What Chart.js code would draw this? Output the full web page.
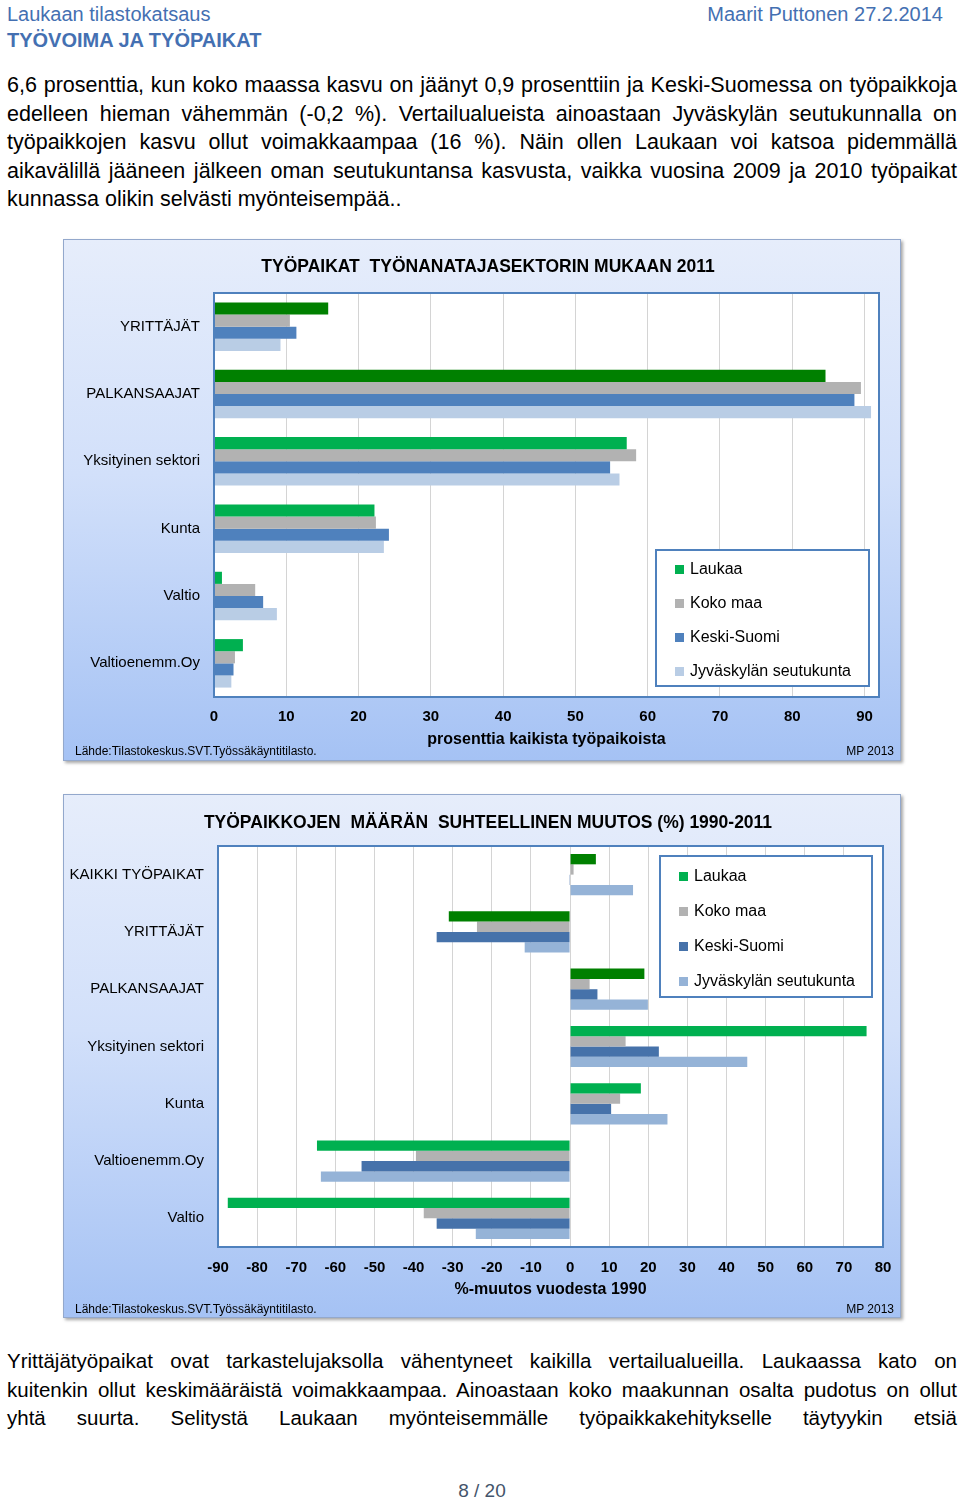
<!DOCTYPE html>
<html>
<head>
<meta charset="utf-8">
<script src="https://cdn.jsdelivr.net/npm/chart.js@4.4.0/dist/chart.umd.min.js"></script>
<style>
body { margin: 0; width: 960px; height: 1503px; position: relative; background: #fff; font-family: 'Liberation Sans', Arial, sans-serif; }
.hd { position: absolute; font-size: 20px; line-height: 22px; color: #4470B2; white-space: nowrap; }
.txt { position: absolute; left: 7px; width: 950px; line-height: 28.5px; color: #000; }
.txt div { white-space: nowrap; text-align: justify; text-align-last: justify; }
.txt div.end { text-align-last: left; }
.box { position: absolute; left: 63px; width: 836px; border: 1px solid #93A8CC; box-shadow: 2px 2px 3px rgba(0,0,0,0.35);
       background: linear-gradient(to bottom, #E6EDFB 0%, #D2E0FA 45%, #A5C2F4 100%); }
.box canvas { position: absolute; left: 0; top: 0; }
.src { position: absolute; font-size: 12px; color: #000; white-space: nowrap; }
.pg { position: absolute; left: 0; width: 964px; top: 1480px; text-align: center; font-size: 19px; color: #44546A; }
</style>
</head>
<body>
<div class="hd" style="left:7px;top:3px">Laukaan tilastokatsaus</div>
<div class="hd" style="left:7px;top:29px;font-weight:bold">TYÖVOIMA JA TYÖPAIKAT</div>
<div class="hd" style="right:17px;top:3px">Maarit Puttonen 27.2.2014</div>

<div class="txt" style="top:71px;font-size:21.5px">
  <div>6,6 prosenttia, kun koko maassa kasvu on jäänyt 0,9 prosenttiin ja Keski-Suomessa on työpaikkoja</div>
  <div>edelleen hieman vähemmän (-0,2 %). Vertailualueista ainoastaan Jyväskylän seutukunnalla on</div>
  <div>työpaikkojen kasvu ollut voimakkaampaa (16 %). Näin ollen Laukaan voi katsoa pidemmällä</div>
  <div>aikavälillä jääneen jälkeen oman seutukuntansa kasvusta, vaikka vuosina 2009 ja 2010 työpaikat</div>
  <div class="end">kunnassa olikin selvästi myönteisempää..</div>
</div>

<div class="box" style="top:239px;height:520px">
  <canvas id="sektori" width="836" height="520"></canvas>
  <div class="src" style="left:11px;top:504px">Lähde:Tilastokeskus.SVT.Työssäkäyntitilasto.</div>
  <div class="src" style="right:6px;top:504px">MP 2013</div>
</div>

<div class="box" style="top:794px;height:522px">
  <canvas id="muutos" width="836" height="522"></canvas>
  <div class="src" style="left:11px;top:507px">Lähde:Tilastokeskus.SVT.Työssäkäyntitilasto.</div>
  <div class="src" style="right:6px;top:507px">MP 2013</div>
</div>

<div class="txt" style="top:1347px;font-size:20.5px">
  <div>Yrittäjätyöpaikat ovat tarkastelujaksolla vähentyneet kaikilla vertailualueilla. Laukaassa kato on</div>
  <div>kuitenkin ollut keskimääräistä voimakkaampaa. Ainoastaan koko maakunnan osalta pudotus on ollut</div>
  <div>yhtä suurta. Selitystä Laukaan myönteisemmälle työpaikkakehitykselle täytyykin etsiä</div>
</div>

<div class="pg">8 / 20</div>

<script>
// sarjat
var seriesNames = ['Laukaa', 'Koko maa', 'Keski-Suomi', 'Jyväskylän seutukunta'];

// työpaikat työnantajasektorin mukaan 2011, % kaikista työpaikoista
var sectorLabels = ['YRITTÄJÄT', 'PALKANSAAJAT', 'Yksityinen sektori', 'Kunta', 'Valtio', 'Valtioenemm.Oy'];
var shareLaukaa = [15.8, 84.6, 57.1, 22.2, 1.1, 4.0];
var shareKokoMaa = [10.5, 89.5, 58.4, 22.4, 5.7, 2.9];
var shareKeskiSuomi = [11.4, 88.6, 54.8, 24.2, 6.8, 2.7];
var shareJkl = [9.2, 90.9, 56.1, 23.5, 8.7, 2.4];
var shareTicks = [0, 10, 20, 30, 40, 50, 60, 70, 80, 90];

// työpaikkojen määrän muutos 1990-2011, %
var changeLabels = ['KAIKKI TYÖPAIKAT', 'YRITTÄJÄT', 'PALKANSAAJAT', 'Yksityinen sektori', 'Kunta', 'Valtioenemm.Oy', 'Valtio'];
var changeLaukaa = [6.6, -31.0, 19.0, 75.8, 18.1, -64.7, -87.5];
var changeKokoMaa = [0.9, -23.8, 5.0, 14.2, 12.8, -39.4, -37.4];
var changeKeskiSuomi = [-0.2, -34.1, 7.0, 22.7, 10.5, -53.3, -34.1];
var changeJkl = [16.1, -11.6, 19.9, 45.3, 24.9, -63.7, -24.1];
var changeTicks = [-90, -80, -70, -60, -50, -40, -30, -20, -10, 0, 10, 20, 30, 40, 50, 60, 70, 80];

Chart.defaults.font.family = "'Liberation Sans', Arial, sans-serif";
Chart.defaults.color = '#000';

var dark = '#008000', bright = '#00B050';

// valkoinen piirtoalue, sininen kehys ja selite kehyksen sisällä
var plotFrame = {
  id: 'plotFrame',
  afterLayout: function (chart) {
    // y-akselin nimiöt saavat ulottua vasempaan reunukseen asti
    chart.scales.y.left = 0;
  },
  beforeDraw: function (chart) {
    var a = chart.chartArea, c = chart.ctx;
    c.save();
    c.fillStyle = '#fff';
    c.fillRect(a.left, a.top, a.right - a.left, a.bottom - a.top);
    c.restore();
  },
  afterDatasetsDraw: function (chart, args, o) {
    var a = chart.chartArea, c = chart.ctx;
    c.save();
    c.strokeStyle = '#4F81BD';
    c.lineWidth = 2;
    c.strokeRect(a.left, a.top, a.right - a.left, a.bottom - a.top);

    var bx = a.right - o.right - o.width;
    var by = o.top != null ? a.top + o.top : a.bottom - o.bottom - o.height;
    c.fillStyle = '#fff';
    c.fillRect(bx, by, o.width, o.height);
    c.strokeRect(bx, by, o.width, o.height);
    c.font = '16px ' + Chart.defaults.font.family;
    c.textBaseline = 'middle';
    chart.data.datasets.forEach(function (ds, i) {
      var y = by + o.first + i * o.step;
      c.fillStyle = ds.legendColor;
      c.fillRect(bx + 19, y - 5, 9, 9);
      c.fillStyle = '#000';
      c.fillText(ds.label, bx + 34, y);
    });
    c.restore();
  }
};

function makeChart(id, labels, values, colors, opt) {
  var datasets = values.map(function (v, i) {
    return {
      label: seriesNames[i],
      data: v,
      backgroundColor: colors[i],
      legendColor: Array.isArray(colors[i]) ? colors[i][colors[i].length - 1] : colors[i],
      barPercentage: 1,
      categoryPercentage: 0.72
    };
  });
  return new Chart(document.getElementById(id), {
    type: 'bar',
    data: { labels: labels, datasets: datasets },
    plugins: [plotFrame],
    options: {
      indexAxis: 'y',
      responsive: false,
      animation: false,
      layout: { padding: { left: opt.padLeft, right: opt.padRight, top: 0, bottom: opt.padBottom } },
      plugins: {
        legend: { display: false },
        tooltip: { enabled: false },
        title: {
          display: true,
          text: opt.title,
          font: { size: 17.5, weight: 'bold' },
          padding: { top: opt.titleTop, bottom: opt.titleBottom }
        },
        plotFrame: opt.legend
      },
      scales: {
        x: {
          min: opt.min,
          max: opt.max,
          afterBuildTicks: function (s) { s.ticks = opt.ticks.map(function (v) { return { value: v }; }); },
          afterFit: function (s) { s.height = opt.xHeight; s.paddingLeft = 0; s.paddingRight = 0; },
          grid: { color: '#D4D4D4', drawTicks: false },
          border: { display: false },
          ticks: { padding: opt.tickPad, font: { size: 15, weight: 'bold' }, maxRotation: 0 },
          title: {
            display: true,
            text: opt.axisTitle,
            font: { size: 16, weight: 'bold' },
            padding: { top: 3, bottom: 0 }
          }
        },
        y: {
          afterFit: function (s) { s.width = opt.yWidth; },
          grid: { display: false, drawTicks: false },
          border: { display: false },
          ticks: { padding: 14, font: { size: 15 } }
        }
      }
    }
  });
}

makeChart('sektori', sectorLabels,
  [shareLaukaa, shareKokoMaa, shareKeskiSuomi, shareJkl],
  [[dark, dark, bright, bright, bright, bright], '#B2B2B2', '#4F81BD', '#B9CDE5'],
  {
    title: 'TYÖPAIKAT  TYÖNANATAJASEKTORIN MUKAAN 2011',
    axisTitle: 'prosenttia kaikista työpaikoista',
    min: 0, max: 92, ticks: shareTicks,
    padLeft: 33, yWidth: 117, padRight: 21, padBottom: 11, xHeight: 52,
    titleTop: 16.5, titleBottom: 15.5,
    tickPad: 11,
    legend: { right: 10, bottom: 11, width: 213, height: 136, first: 20, step: 34 }
  });

makeChart('muutos', changeLabels,
  [changeLaukaa, changeKokoMaa, changeKeskiSuomi, changeJkl],
  [[dark, dark, dark, bright, bright, bright, bright], '#B2B2B2', '#4672AA', '#95B3D7'],
  {
    title: 'TYÖPAIKKOJEN  MÄÄRÄN  SUHTEELLINEN MUUTOS (%) 1990-2011',
    axisTitle: '%-muutos vuodesta 1990',
    min: -90, max: 80, ticks: changeTicks,
    padLeft: 29, yWidth: 125, padRight: 17, padBottom: 18, xHeight: 52,
    titleTop: 17.5, titleBottom: 12.5,
    tickPad: 12,
    legend: { right: 11, top: 10, width: 212, height: 141, first: 21, step: 35 }
  });
</script>
</body>
</html>
